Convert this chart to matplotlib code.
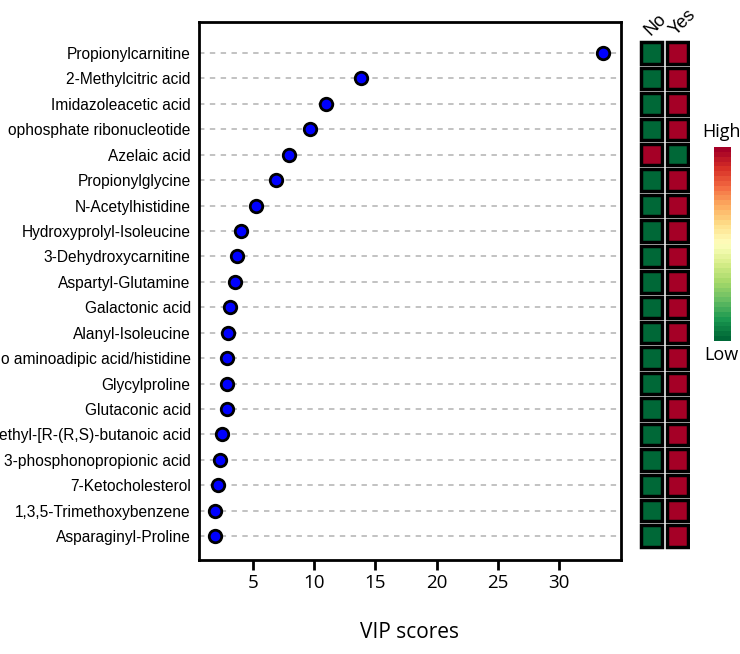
import matplotlib
matplotlib.use("Agg")
import matplotlib.pyplot as plt
import numpy as np
from matplotlib.patches import Rectangle

# Labels as visible in the reference (left portions are cut off there)
metabolites = [
    "Propionylcarnitine", "2-Methylcitric acid", "Imidazoleacetic acid",
    "ophosphate ribonucleotide", "Azelaic acid", "Propionylglycine",
    "N-Acetylhistidine", "Hydroxyprolyl-Isoleucine", "3-Dehydroxycarnitine",
    "Aspartyl-Glutamine", "Galactonic acid", "Alanyl-Isoleucine",
    "o aminoadipic acid/histidine", "Glycylproline", "Glutaconic acid",
    "ethyl-[R-(R,S)-butanoic acid", "3-phosphonopropionic acid",
    "7-Ketocholesterol", "1,3,5-Trimethoxybenzene", "Asparaginyl-Proline",
]
vip_scores = [33.6, 13.8, 10.95, 9.65, 7.93, 6.88, 5.25, 4.03, 3.70, 3.53,
              3.12, 2.96, 2.88, 2.88, 2.85, 2.47, 2.30, 2.14, 1.90, 1.90]
groups = ["No", "Yes"]
# 0 = low, 1 = high relative abundance
level_no = [0, 0, 0, 0, 1, 0, 0, 0, 0, 0, 0, 0, 0, 0, 0, 0, 0, 0, 0, 0]
level_yes = [1, 1, 1, 1, 0, 1, 1, 1, 1, 1, 1, 1, 1, 1, 1, 1, 1, 1, 1, 1]
x_ticks = [5, 10, 15, 20, 25, 30]

W, H = 740, 654
fig = plt.figure(figsize=(W / 100, H / 100), dpi=100)

def fx(px):
    return px / W

def fy(py):
    return 1 - py / H

n = len(metabolites)
ylo, yhi = n - 1 + 0.94, -1.22

ax = fig.add_axes([fx(199), fy(560), fx(621) - fx(199), fy(22) - fy(560)])
ypos = np.arange(n)
for y in ypos:
    ax.axhline(y, color="#bdbdbd", lw=1.3, ls=(0, (3, 3)), zorder=1)
ax.plot(vip_scores, ypos, "o", ms=9, mfc="#0000ff", mec="black", mew=2, zorder=3, clip_on=False)
ax.set_xlim(0.6, 35.07)
ax.set_ylim(ylo, yhi)
ax.set_yticks(ypos)
ax.set_yticklabels(metabolites, family="Liberation Sans", fontsize=11.2)
ax.tick_params(axis="y", length=0, pad=6)
ax.set_xticks(x_ticks)
ax.set_xticklabels([str(t) for t in x_ticks], family="Open Sans", fontsize=13.5)
ax.tick_params(axis="x", length=7, width=2, pad=3)
for s in ax.spines.values():
    s.set_linewidth(2)
ax.set_xlabel("VIP scores", family="Open Sans", fontsize=15, labelpad=22)

# heatmap
cmap = plt.get_cmap("RdYlGn_r")
hx = fig.add_axes([fx(639), fy(560), fx(690) - fx(639), fy(22) - fy(560)])
hx.set_xlim(-0.5, 1.5)
hx.set_ylim(ylo, yhi)
hx.axis("off")
for j, lev in enumerate([level_no, level_yes]):
    for i, v in enumerate(lev):
        col = "#a50026" if v == 1 else "#006837"
        hx.add_patch(Rectangle((j - 0.42, i - 0.42), 0.84, 0.84, facecolor=col,
                               edgecolor="black", lw=2.5))
for j, g in enumerate(groups):
    hx.text(j - 0.05, -0.66, g, rotation=45, ha="left", va="baseline", family="Liberation Sans",
            fontsize=13, transform=hx.transData, rotation_mode="anchor", clip_on=False)

# colorbar
cx = fig.add_axes([fx(714), fy(341), fx(731) - fx(714), fy(147) - fy(341)])
grad = np.linspace(1, 0, 40).reshape(-1, 1)
cx.imshow(grad, cmap=cmap, aspect="auto", interpolation="nearest")
cx.axis("off")
fig.text(fx(721), fy(132), "High", ha="center", va="center", family="Open Sans", fontsize=13)
fig.text(fx(721), fy(355), "Low", ha="center", va="center", family="Open Sans", fontsize=13)

fig.savefig("out.png", dpi=100)
